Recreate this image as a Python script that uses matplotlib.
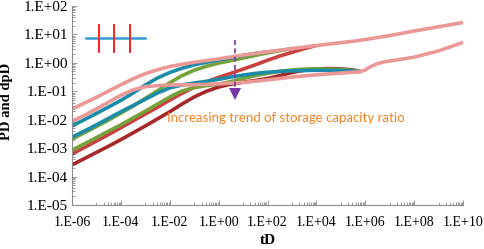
import numpy as np
import matplotlib
matplotlib.use("Agg")
import matplotlib.pyplot as plt
from matplotlib.ticker import FixedLocator, FuncFormatter, LogLocator, NullFormatter


# values, as log10 exponents (tD, PD or dpD)
PINK_PD_X = [-6, -5.5, -5, -4.5, -4, -3.5, -3, -2.5, -2, -1.5, -1, -0.5, 0, 1, 2, 3, 4, 5, 5.5, 6, 6.5, 7, 8,
             9, 10]
PINK_PD_Y = [-1.62, -1.42, -1.21, -0.99, -0.77, -0.56, -0.38, -0.24, -0.13, -0.05, 0.02, 0.08, 0.14, 0.27,
             0.39, 0.5, 0.61, 0.71, 0.76, 0.82, 0.89, 0.96, 1.12, 1.27, 1.42]
PINK_DP_X = [-6, -5.5, -5, -4.5, -4, -3.5, -3, -2.5, -2, -1, 0, 1, 2, 3, 4, 5, 5.5, 5.8, 6.0, 6.2, 6.5, 6.8,
             7.2, 8, 9, 10]
PINK_DP_Y = [-2.05, -1.85, -1.62, -1.38, -1.14, -0.95, -0.84, -0.8, -0.78, -0.77, -0.74, -0.69, -0.6, -0.5,
             -0.42, -0.36, -0.33, -0.31, -0.25, -0.14, -0.03, 0.04, 0.09, 0.2, 0.42, 0.72]

TEAL_PD_X = [-6, -5.5, -5, -4.5, -4, -3.5, -3, -2.5, -2, -1.5, -1, -0.5, 0, 0.5, 1, 1.5, 2]
TEAL_PD_Y = [-2.22, -2.0, -1.78, -1.55, -1.32, -1.06, -0.78, -0.53, -0.34, -0.19, -0.07, 0.02, 0.1, 0.18,
             0.26, 0.33, 0.39]
TEAL_DP_X = [-6, -5.5, -5, -4.5, -4, -3.5, -3, -2.5, -2, -1.5, -1, -0.5, 0, 0.5, 1, 1.5, 2, 2.5, 3, 4, 5,
             5.5, 5.8]
TEAL_DP_Y = [-2.61, -2.4, -2.18, -1.95, -1.72, -1.5, -1.28, -1.06, -0.88, -0.78, -0.71, -0.65, -0.58, -0.5,
             -0.43, -0.37, -0.33, -0.3, -0.28, -0.26, -0.27, -0.29, -0.31]

GREEN_PD_X = [-6, -5.5, -5, -4.5, -4, -3.5, -3, -2.5, -2, -1.5, -1, -0.5, 0, 0.5, 1, 1.5, 2, 2.5, 3]
GREEN_PD_Y = [-2.68, -2.46, -2.24, -2.01, -1.77, -1.52, -1.25, -0.98, -0.7, -0.45, -0.26, -0.12, -0.01, 0.08,
              0.17, 0.26, 0.35, 0.43, 0.5]
GREEN_DP_X = [-6, -5.5, -5, -4.5, -4, -3.5, -3, -2.5, -2, -1.5, -1, -0.5, 0, 0.5, 1, 1.5, 2, 2.5, 3, 3.5,
              4, 5, 5.5, 5.8]
GREEN_DP_Y = [-3.07, -2.85, -2.63, -2.4, -2.18, -1.94, -1.7, -1.45, -1.2, -0.99, -0.87, -0.8, -0.75, -0.66,
              -0.55, -0.45, -0.37, -0.3, -0.25, -0.22, -0.21, -0.23, -0.27, -0.3]

RED_PD_X = [-6, -5.5, -5, -4.5, -4, -3.5, -3, -2.5, -2, -1.5, -1, -0.5, 0, 0.5, 1, 1.5, 2, 2.5, 3, 3.5, 4]
RED_PD_Y = [-3.21, -2.98, -2.75, -2.52, -2.28, -2.04, -1.8, -1.56, -1.31, -1.07, -0.86, -0.67, -0.51, -0.37,
            -0.22, -0.07, 0.09, 0.24, 0.37, 0.5, 0.61]
RED_DP_X = [-6, -5.5, -5, -4.5, -4, -3.5, -3, -2.5, -2, -1.5, -1, -0.5, 0, 0.5, 1, 1.5, 2, 2.5, 3, 3.5, 4,
            4.5, 5, 5.5, 5.8]
RED_DP_Y = [-3.59, -3.37, -3.15, -2.93, -2.7, -2.46, -2.22, -1.97, -1.72, -1.45, -1.2, -1.0, -0.85, -0.75,
            -0.68, -0.62, -0.55, -0.45, -0.34, -0.26, -0.22, -0.2, -0.21, -0.25, -0.3]

X_LABEL_EXP = [-6, -4, -2, 0, 2, 4, 6, 8, 10]
Y_LABEL_EXP = [-5, -4, -3, -2, -1, 0, 1, 2]

SERIES = [
    (RED_DP_X, RED_DP_Y, "#a8282a"),
    (RED_PD_X, RED_PD_Y, "#c94040"),
    (GREEN_DP_X, GREEN_DP_Y, "#76a23a"),
    (GREEN_PD_X, GREEN_PD_Y, "#76a23a"),
    (TEAL_DP_X, TEAL_DP_Y, "#1a8ca8"),
    (TEAL_PD_X, TEAL_PD_Y, "#1a8ca8"),
    (PINK_DP_X, PINK_DP_Y, "#eb9896"),
    (PINK_PD_X, PINK_PD_Y, "#eb9896"),
]


def exp_label(v, pos):
    e = int(round(np.log10(v)))
    return f"1.E{e:+03d}"


def main():
    fig = plt.figure(figsize=(4.84, 2.49), dpi=100)
    ax = fig.add_axes([72 / 484, 1 - 205 / 249, 391 / 484, 199 / 249])

    for xs, ys, color in SERIES:
        ax.plot(10.0 ** np.array(xs), 10.0 ** np.array(ys), color=color, lw=2.6,
                solid_capstyle="butt", solid_joinstyle="round")

    ax.set_xscale("log")
    ax.set_yscale("log")
    ax.set_xlim(1e-6, 1e10)
    ax.set_ylim(1e-5, 1e2)

    for side in ["top", "right"]:
        ax.spines[side].set_visible(False)
    for side in ["left", "bottom"]:
        ax.spines[side].set_color("#8c8c8c")
        ax.spines[side].set_linewidth(0.8)

    ax.xaxis.set_major_locator(FixedLocator([10.0 ** e for e in X_LABEL_EXP]))
    odd = [10.0 ** e * k for e in range(-5, 10, 2) for k in range(1, 10)]
    ax.xaxis.set_minor_locator(FixedLocator(odd))
    ax.xaxis.set_major_formatter(FuncFormatter(exp_label))
    ax.xaxis.set_minor_formatter(NullFormatter())

    ax.yaxis.set_major_locator(FixedLocator([10.0 ** e for e in Y_LABEL_EXP]))
    ax.yaxis.set_minor_locator(LogLocator(base=10, subs=np.arange(2, 10), numticks=20))
    ax.yaxis.set_major_formatter(FuncFormatter(exp_label))
    ax.yaxis.set_minor_formatter(NullFormatter())

    ax.tick_params(which="both", direction="in", color="#8c8c8c", width=0.6)
    ax.tick_params(which="major", length=3.5)
    ax.tick_params(which="minor", length=2.5)
    ax.tick_params(axis="x", which="major", pad=8, labelsize=10)
    ax.tick_params(axis="y", which="major", pad=3, labelsize=11)
    for lab in ax.get_xticklabels() + ax.get_yticklabels():
        lab.set_fontfamily("Liberation Serif")

    ax.set_xlabel("tD", fontfamily="Liberation Serif", fontweight="bold", fontsize=11)
    ax.set_ylabel("PD and dpD", fontfamily="Liberation Serif", fontweight="bold", fontsize=10.5)
    ax.xaxis.set_label_coords(0.5, -0.145)
    ax.yaxis.set_label_coords(-0.152, 0.52)

    # fractured well symbol
    ax.plot([0.035, 0.187], [0.837, 0.837], transform=ax.transAxes, color="#2e9bd6", lw=1.8)
    for fx in [0.069, 0.107, 0.148]:
        ax.plot([fx, fx], [0.905, 0.77], transform=ax.transAxes, color="#ff1f1f", lw=1.4)

    # trend arrow
    ax.plot([0.417, 0.417], [0.83, 0.585], transform=ax.transAxes, color="#7b35a8", lw=1.2,
            ls=(0, (3, 2)))
    ax.plot([0.417], [0.56], transform=ax.transAxes, marker="v", ms=8, color="#7b35a8", mew=0)

    ax.text(0.243, 0.437, "Increasing trend of storage capacity ratio", transform=ax.transAxes,
            color="#f5821f", fontsize=9.5, fontfamily="Lato", ha="left", va="center")

    fig.savefig("out.png", dpi=100)


if __name__ == "__main__":
    main()
